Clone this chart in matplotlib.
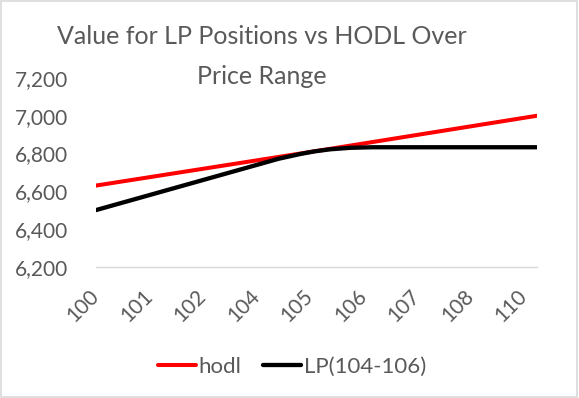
import matplotlib
matplotlib.use('Agg')
import matplotlib.pyplot as plt
from matplotlib.patches import Rectangle

plt.rcParams['font.family'] = ['Lato', 'DejaVu Sans']

# values at the line knots
hodl_price = [100.0, 105.0, 109.9]
hodl_value = [6630, 6815, 7000]

lp_price = [100.0, 104.1, 104.6, 104.9, 105.25, 105.7, 106.2, 109.9]
lp_value = [6500, 6772, 6798, 6811, 6822, 6830, 6833, 6833]

tick_prices = [100.0, 101.2, 102.4, 103.6, 104.8, 106.0, 107.2, 108.4, 109.6]
tick_labels = [f"{p:.0f}" for p in tick_prices]

y_ticks = [6200, 6400, 6600, 6800, 7000, 7200]

grey = '#595959'

fig = plt.figure(figsize=(5.79, 3.98), dpi=100)
ax = fig.add_axes([96/579, 1 - 266.7/398, 441/579, (266.7 - 78)/398])

ax.plot(hodl_price, hodl_value, color='#FF0000', lw=2.9, solid_capstyle='round', label='hodl')
ax.plot(lp_price, lp_value, color='black', lw=3.1, solid_capstyle='round', label='LP(104-106)')

ax.set_xlim(100, 109.9)
ax.set_ylim(6200, 7200)
ax.set_yticks(y_ticks)
ax.set_yticklabels([f"{v:,}" for v in y_ticks])
ax.set_xticks(tick_prices)
ax.set_xticklabels(tick_labels, rotation=45, ha='right', va='center', rotation_mode='anchor')

for s in ['top', 'right', 'left']:
    ax.spines[s].set_visible(False)
ax.spines['bottom'].set_color('#D9D9D9')
ax.spines['bottom'].set_linewidth(1.0)
ax.tick_params(axis='both', length=0, colors=grey, labelsize=15)
ax.tick_params(axis='y', pad=20)
ax.tick_params(axis='x', pad=19)

fig.text(262/579, 1 - 36/398, 'Value for LP Positions vs HODL Over', ha='center', va='center',
         fontsize=18, color=grey)
fig.text(262/579, 1 - 77/398, 'Price Range', ha='center', va='center', fontsize=18, color=grey)

fig.legend(loc='center', bbox_to_anchor=(292/579, 1 - 367/398), ncol=2, frameon=False,
           fontsize=16, labelcolor=grey, handlelength=1.7, handletextpad=0.12,
           columnspacing=1.0)

fig.patches.append(Rectangle((0.002, 0.003), 0.995, 0.994, transform=fig.transFigure,
                             fill=False, edgecolor='#D9D9D9', lw=1.2))

fig.savefig('out.png', dpi=100)
